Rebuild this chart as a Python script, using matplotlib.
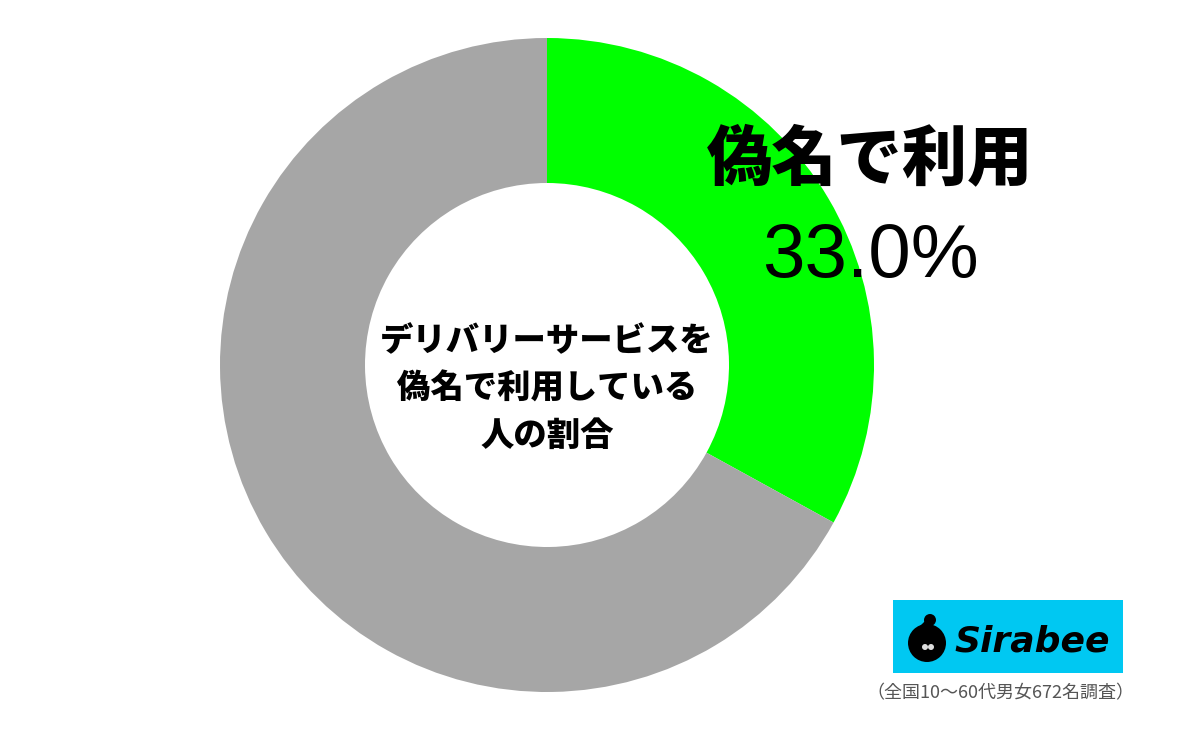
import matplotlib.pyplot as plt
from matplotlib.patches import Rectangle, Circle

plt.rcParams['font.family'] = ['Noto Sans CJK JP', 'DejaVu Sans']

labels = ['偽名で利用', 'その他']
values = [33.0, 67.0]
colors = ['#00ff00', '#a6a6a6']
center_title = 'デリバリーサービスを\n偽名で利用している\n人の割合'
note = '（全国10〜60代男女672名調査）'

W, H = 1200, 733
fig = plt.figure(figsize=(W / 100, H / 100), dpi=100)
ax = fig.add_axes([0, 0, 1, 1])
ax.set_xlim(0, W)
ax.set_ylim(0, H)
ax.set_aspect('equal')
ax.axis('off')

cx, cy = 547, H - 365
ax.pie(values, colors=colors, startangle=90, counterclock=False,
       center=(cx, cy), radius=327,
       wedgeprops=dict(width=145, linewidth=0))
ax.set_xlim(0, W)
ax.set_ylim(0, H)

ax.text(cx, H - 388, center_title, ha='center', va='center',
        fontsize=24, fontweight='black', linespacing=1.45)

ax.text(870, H - 160, labels[0], ha='center', va='center',
        fontsize=47, fontweight='black')
ax.text(870, H - 258, '{:.1f}%'.format(values[0]), ha='center', va='center',
        fontsize=55, family=['Liberation Sans'])

# logo
ax.add_patch(Rectangle((893, H - 673), 230, 73, color='#00c8f2', lw=0))
ax.add_patch(Circle((927, H - 643), 19, color='black', lw=0))
ax.add_patch(Circle((930, H - 620), 6, color='black', lw=0))
ax.plot([930, 922, 914], [H - 620, H - 628, H - 636], color='black', lw=4)
ax.add_patch(Circle((925, H - 647), 3, color='#dddddd', lw=0))
ax.add_patch(Circle((931, H - 647), 3, color='#dddddd', lw=0))
ax.text(954, H - 641, 'Sirabee', ha='left', va='center', fontsize=26,
        fontweight='bold', style='italic', family=['DejaVu Sans'])

ax.text(1000, H - 693, note, ha='center', va='center',
        fontsize=13, color='#555555')

fig.savefig('out.png', dpi=100)
